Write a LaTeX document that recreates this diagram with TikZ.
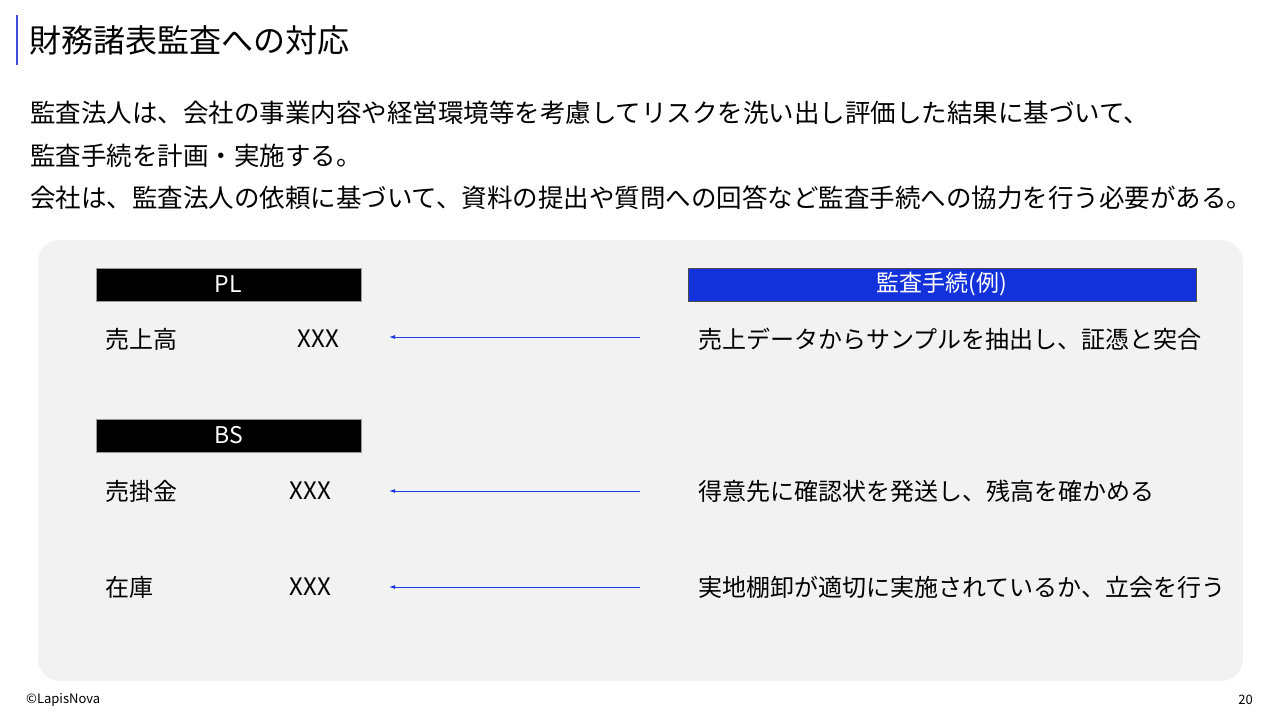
\documentclass[tikz,border=0pt]{standalone}
\usepackage{fontspec}
\setmainfont{Noto Sans CJK JP}
\usepackage{tikz}
\usetikzlibrary{arrows.meta}
\definecolor{panelgray}{HTML}{F2F2F2}
\definecolor{procblue}{HTML}{1432DC}
\definecolor{barblue}{HTML}{3F4FD6}
\definecolor{arrowblue}{HTML}{1A3AE0}
\newcommand{\fs}[1]{\fontsize{#1}{#1}\selectfont}

\begin{document}
\begin{tikzpicture}[x=1pt,y=-1pt,
	txt/.style={anchor=west,inner sep=0pt,text=black},
	headbox/.style={draw=black!40,minimum height=33pt,inner sep=0pt,text=white,font=\fs{23}},
	auditarrow/.style={draw=arrowblue,line width=0.9pt,-{Latex[length=6pt,width=4pt]}}]
	\useasboundingbox (0,0) rectangle (1280,720);
	\fill[white] (0,0) rectangle (1280,720);
	% title
	\draw[barblue,line width=2pt] (17,15) -- (17,65);
	\node[txt,font=\fs{32}] (title) at (29,40) {財務諸表監査への対応};
	% lead text
	\node[txt,font=\fs{25.5}] (lead1) at (30,113) {監査法人は、会社の事業内容や経営環境等を考慮してリスクを洗い出し評価した結果に基づいて、};
	\node[txt,font=\fs{25.5}] (lead2) at (30,156) {監査手続を計画・実施する。};
	\node[txt,font=\fs{25.5}] (lead3) at (30,198) {会社は、監査法人の依頼に基づいて、資料の提出や質問への回答など監査手続への協力を行う必要がある。};
	% panel
	\fill[panelgray,rounded corners=22pt] (38,240) rectangle (1243,681);
	% statements
	\node[headbox,fill=black,minimum width=265pt] (pl) at (228.5,284.5) {PL};
	\node[headbox,fill=black,minimum width=265pt] (bs) at (228.5,435.5) {BS};
	\node[headbox,fill=procblue,draw=black!70,minimum width=508pt] (proc) at (942,284.5) {監査手続(例)};
	\node[txt,font=\fs{24}] (sales) at (105,339) {売上高};
	\node[txt,font=\fs{24},anchor=east] (salesv) at (339,339) {XXX};
	\node[txt,font=\fs{24}] (recv) at (105,491) {売掛金};
	\node[txt,font=\fs{24},anchor=east] (recvv) at (331,491) {XXX};
	\node[txt,font=\fs{24}] (inv) at (105,587) {在庫};
	\node[txt,font=\fs{24},anchor=east] (invv) at (331,587) {XXX};
	% procedures
	\node[txt,font=\fs{24}] (p1) at (698,339) {売上データからサンプルを抽出し、証憑と突合};
	\node[txt,font=\fs{24}] (p2) at (698,491) {得意先に確認状を発送し、残高を確かめる};
	\node[txt,font=\fs{24}] (p3) at (698,587) {実地棚卸が適切に実施されているか、立会を行う};
	\coordinate (a1s) at (640,337); \coordinate (a1e) at (389,337);
	\coordinate (a2s) at (640,491); \coordinate (a2e) at (389,491);
	\coordinate (a3s) at (640,587); \coordinate (a3e) at (389,587);
	\draw[auditarrow] (a1s) -- (a1e);
	\draw[auditarrow] (a2s) -- (a2e);
	\draw[auditarrow] (a3s) -- (a3e);
	% footer
	\node[txt,font=\fs{13}] (copy) at (26,700) {©LapisNova};
	\node[txt,font=\fs{13},anchor=east] (page) at (1253,700) {20};
\end{tikzpicture}
\end{document}
